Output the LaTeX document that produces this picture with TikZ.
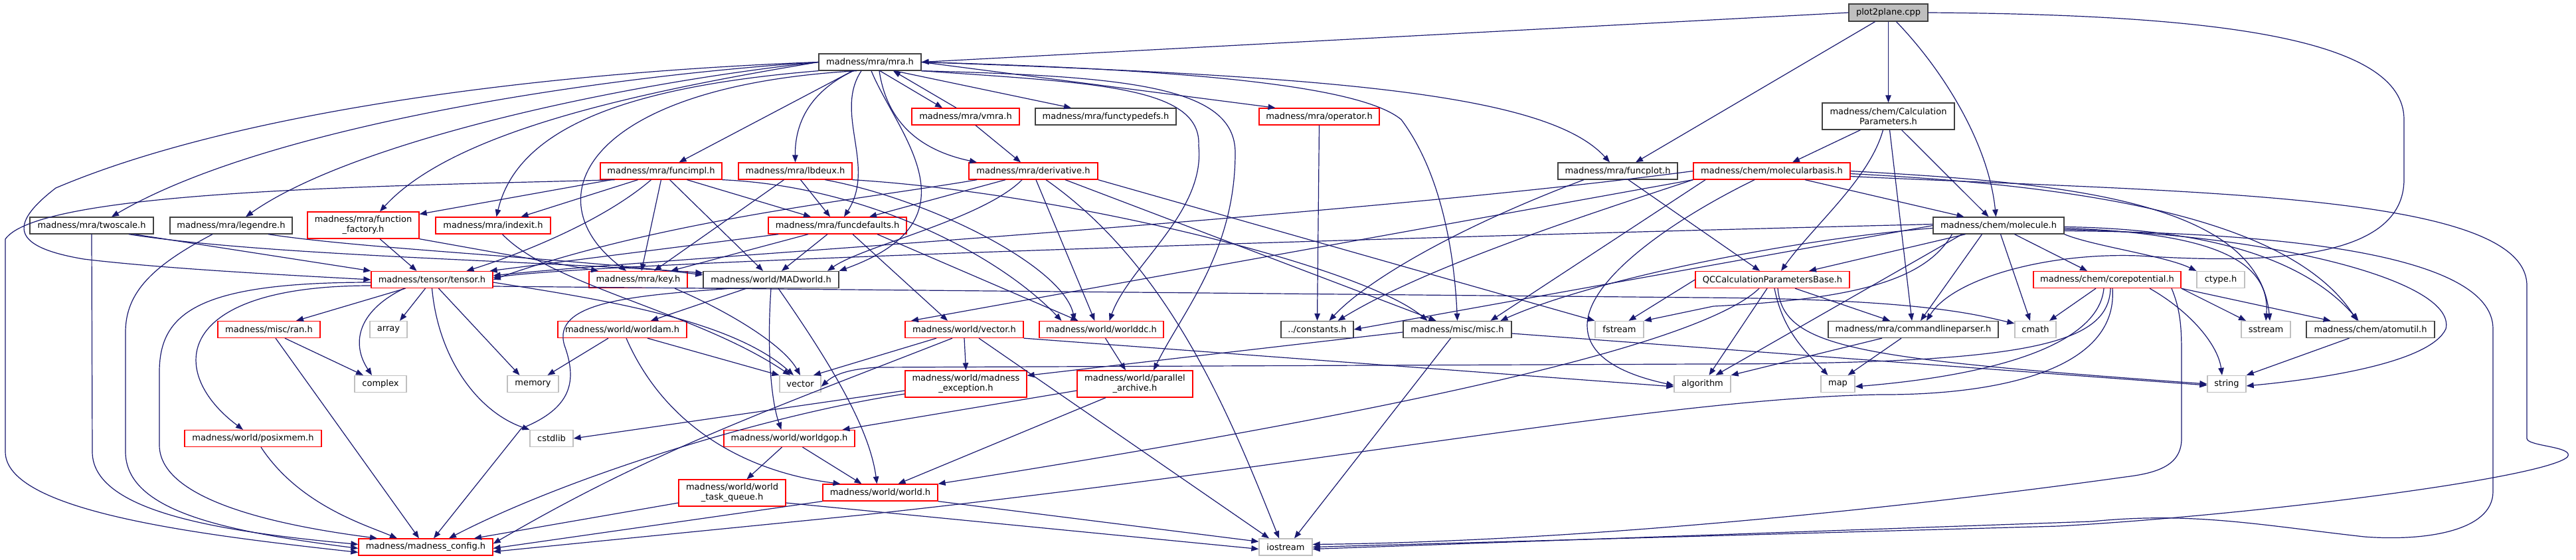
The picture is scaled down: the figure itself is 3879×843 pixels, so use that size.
\documentclass[tikz,border=0pt]{standalone}
\usepackage{fontspec}
\setmainfont{DejaVu Sans}
\usetikzlibrary{arrows.meta}
\definecolor{edgecol}{HTML}{191970}
\definecolor{redc}{HTML}{FF0000}
\definecolor{grayc}{HTML}{BFBFBF}
\definecolor{blackc}{HTML}{404040}
\begin{document}
\begin{tikzpicture}[x=1pt,y=-1pt, font=\fontsize{13pt}{15pt}\selectfont,
 nbase/.style={rectangle, inner sep=0pt, minimum height=25pt, line width=1.3pt, fill=white, align=center, text=black},
 nb/.style={nbase, draw=blackc},
 nr/.style={nbase, draw=redc},
 ng/.style={nbase, draw=grayc},
 nroot/.style={nbase, draw=blackc, fill=grayc},
 arr/.style={draw=edgecol, line width=1.2pt, -{Triangle[length=11pt,width=8.5pt]}}]
\fill[white] (0,0) rectangle (3879,843);
\useasboundingbox (0,0) rectangle (3879,843);

% ---------- nodes ----------
\node[nroot, minimum width=119pt, minimum height=26pt] (P) at (2843.5,19) {plot2plane.cpp};
\node[nb, minimum width=154pt] (mra) at (1310,93.5) {madness/mra/mra.h};
\node[nb, minimum width=186pt] (twoscale) at (138,339.5) {madness/mra/twoscale.h};
\node[nb, minimum width=184pt] (legendre) at (348,339.5) {madness/mra/legendre.h};
\node[nr, minimum width=168pt, minimum height=40pt] (ff) at (547,339) {madness/mra/function\\\_factory.h};
\node[nr, minimum width=183pt] (tensor) at (650.5,421) {madness/tensor/tensor.h};
\node[nr, minimum width=183pt] (funcimpl) at (995.5,257.5) {madness/mra/funcimpl.h};
\node[nr, minimum width=171pt] (lbdeux) at (1197.5,257.5) {madness/mra/lbdeux.h};
\node[nr, minimum width=173pt] (indexit) at (742.5,339.5) {madness/mra/indexit.h};
\node[nr, minimum width=208pt] (funcdefaults) at (1261,339.5) {madness/mra/funcdefaults.h};
\node[nr, minimum width=148pt] (key) at (961,421) {madness/mra/key.h};
\node[nb, minimum width=204pt] (MADworld) at (1161,421) {madness/world/MADworld.h};
\node[nr, minimum width=162pt] (vmra) at (1454,175.5) {madness/mra/vmra.h};
\node[nb, minimum width=212pt] (functypedefs) at (1665,175.5) {madness/mra/functypedefs.h};
\node[nr, minimum width=181pt] (operator) at (1986.5,175.5) {madness/mra/operator.h};
\node[nr, minimum width=194pt] (derivative) at (1556,257.5) {madness/mra/derivative.h};
\node[nb, minimum width=180pt] (funcplot) at (2436,257.5) {madness/mra/funcplot.h};
\node[nr, minimum width=236pt] (MB) at (2668,257.5) {madness/chem/molecularbasis.h};
\node[nr, minimum width=232pt] (QCC) at (2669,421) {QCCalculationParametersBase.h};
\node[nb, minimum width=199pt, minimum height=40pt] (C) at (2843.5,175) {madness/chem/Calculation\\Parameters.h};
\node[nb, minimum width=197pt] (molecule) at (3009.5,339.5) {madness/chem/molecule.h};
\node[nr, minimum width=222pt] (cp) at (3173,421) {madness/chem/corepotential.h};
\node[ng, minimum width=72pt] (ctype) at (3344,421) {ctype.h};
\node[nr, minimum width=154pt] (ran) at (405,496) {madness/misc/ran.h};
\node[ng, minimum width=56pt] (array) at (585,496) {array};
\node[ng, minimum width=78pt] (complex) at (573,578) {complex};
\node[nr, minimum width=206pt] (posixmem) at (381,660) {madness/world/posixmem.h};
\node[nr, minimum width=202pt] (mconfig) at (641,823.5) {madness/madness\_config.h};
\node[nr, minimum width=194pt] (worldam) at (937,496) {madness/world/worldam.h};
\node[ng, minimum width=77pt] (memory) at (802.5,578) {memory};
\node[ng, minimum width=62pt] (vector) at (1205,578) {vector};
\node[ng, minimum width=65pt] (cstdlib) at (830.5,660) {cstdlib};
\node[nr, minimum width=197pt] (worldgop) at (1188.5,660) {madness/world/worldgop.h};
\node[nr, minimum width=161pt, minimum height=40pt] (wtq) at (1102.5,742) {madness/world/world\\\_task\_queue.h};
\node[nr, minimum width=173pt] (world) at (1325.5,741.5) {madness/world/world.h};
\node[nr, minimum width=178pt] (vectorh) at (1452,496) {madness/world/vector.h};
\node[nr, minimum width=187pt] (worlddc) at (1658.5,496) {madness/world/worlddc.h};
\node[nr, minimum width=183pt, minimum height=40pt] (mexc) at (1454.5,578) {madness/world/madness\\\_exception.h};
\node[nr, minimum width=174pt, minimum height=40pt] (parch) at (1709,578) {madness/world/parallel\\\_archive.h};
\node[ng, minimum width=80pt] (iostream) at (1936,823.5) {iostream};
\node[nb, minimum width=109pt] (constants) at (1983.5,496) {../constants.h};
\node[nb, minimum width=163pt] (misc) at (2194.5,496) {madness/misc/misc.h};
\node[ng, minimum width=73pt] (fstream) at (2438.5,496) {fstream};
\node[ng, minimum width=85pt] (algorithm) at (2563.5,578) {algorithm};
\node[nb, minimum width=256pt] (cmdline) at (2881,496) {madness/mra/commandlineparser.h};
\node[ng, minimum width=62pt] (cmath) at (3065,496) {cmath};
\node[ng, minimum width=51pt] (map) at (2767.5,578) {map};
\node[ng, minimum width=74pt] (sstream) at (3412,496) {sstream};
\node[nb, minimum width=193pt] (atomutil) at (3569.5,496) {madness/chem/atomutil.h};
\node[ng, minimum width=58pt] (string) at (3353,578) {string};

% ---------- edges ----------
% plot2plane.cpp
\draw[arr] (P.west) -- (mra.east);
\draw[arr] ([xshift=-20pt]P.south) -- ([xshift=27pt]funcplot.north);
\draw[arr] (P.south) -- (C.north);
\draw[arr] ([xshift=12pt]P.south) .. controls (2930,110) and (2995,220) .. ([xshift=-4pt]molecule.north);
\draw[arr] (P.east) .. controls (3350,22) and (3620,60) .. (3620,180) -- (3620,270) .. controls (3620,390) and (3420,398) .. (3220,385) .. controls (3080,380) and (2940,420) .. ([xshift=20pt]cmdline.north);

% mra.h
\draw[arr] (mra.west) .. controls (900,115) and (400,190) .. ([xshift=30pt]twoscale.north);
\draw[arr] (mra.west) .. controls (900,130) and (520,220) .. ([xshift=22pt]legendre.north);
\draw[arr] (mra.west) .. controls (950,140) and (680,200) .. ([xshift=25pt]ff.north);
\draw[arr] (mra.west) .. controls (800,110) and (350,170) .. (84,283) .. controls (10,340) and (20,372) .. (126,390) .. controls (250,405) and (450,415) .. (tensor.west);
\draw[arr] (mra.south west) .. controls (950,130) and (780,190) .. ([xshift=5pt]indexit.north);
\draw[arr] ([xshift=-26pt]mra.south) -- ([xshift=27pt]funcimpl.north);
\draw[arr] ([xshift=-25pt]mra.south) .. controls (1215,140) and (1197,190) .. (lbdeux.north);
\draw[arr] ([xshift=-13pt]mra.south) .. controls (1255,170) and (1320,250) .. ([xshift=10pt]funcdefaults.north);
\draw[arr] ([xshift=-20pt]mra.south) .. controls (880,130) and (800,300) .. ([xshift=-18pt]key.north);
\draw[arr] ([xshift=2pt]mra.south) .. controls (1350,200) and (1480,330) .. (MADworld.north east);
\draw[arr] ([xshift=15pt]mra.south) -- ([xshift=-35pt]vmra.north);
\draw[arr] ([xshift=37pt]mra.south) -- ([xshift=-52pt]functypedefs.north);
\draw[arr] (mra.east) -- ([xshift=-66pt]operator.north);
\draw[arr] ([xshift=14pt]mra.south) .. controls (1335,180) and (1380,225) .. ([xshift=-85pt]derivative.north);
\draw[arr] (mra.east) .. controls (2000,115) and (2330,140) .. ([xshift=-12pt]funcplot.north);
\draw[arr] (mra.east) .. controls (1800,105) and (2050,130) .. (2110,180) .. controls (2170,260) and (2190,380) .. (misc.north);
\draw[arr] (mra.south east) .. controls (1650,125) and (1810,130) .. (1805,220) .. controls (1815,320) and (1700,400) .. ([xshift=12pt]worlddc.north);
\draw[arr] (mra.south east) .. controls (1700,115) and (1860,130) .. (1860,230) .. controls (1860,380) and (1780,470) .. ([xshift=28pt]parch.north);

% vmra.h
\draw[arr] ([xshift=-14pt]vmra.north) -- ([xshift=35pt]mra.south);
\draw[arr] ([xshift=15pt]vmra.south) -- ([xshift=-19pt]derivative.north);

% twoscale.h, legendre.h
\draw[arr] (twoscale.south) -- (139,680) .. controls (139,770) and (330,800) .. ([yshift=4pt]mconfig.west);
\draw[arr] ([xshift=64pt]twoscale.south) -- (tensor.north west);
\draw[arr] ([xshift=56pt]twoscale.south) .. controls (400,385) and (800,392) .. ([yshift=-3pt]MADworld.north west);
\draw[arr] ([xshift=-28pt]legendre.south) .. controls (230,400) and (189,440) .. (189,500) -- (189,680) .. controls (189,770) and (340,800) .. ([yshift=-2pt]mconfig.west);
\draw[arr] ([xshift=56pt]legendre.south) .. controls (550,375) and (850,388) .. ([yshift=-6pt]MADworld.north west);

% function_factory.h
\draw[arr] ([xshift=25pt]ff.south) -- ([xshift=-23pt]tensor.north);
\draw[arr] (ff.south east) -- ([xshift=-60pt]key.north);

% funcimpl.h
\draw[arr] ([xshift=-75pt]funcimpl.south) -- ([yshift=-4pt]ff.north east);
\draw[arr] ([xshift=-35pt]funcimpl.south) -- ([xshift=42pt]indexit.north);
\draw[arr] ([xshift=39pt]funcimpl.south) -- ([xshift=-40pt]funcdefaults.north);
\draw[arr] ([xshift=-15pt]funcimpl.south) .. controls (900,340) and (760,390) .. ([xshift=52pt]tensor.north);
\draw[arr] (funcimpl.south) -- ([xshift=5pt]key.north);
\draw[arr] ([xshift=13pt]funcimpl.south) -- ([xshift=-12pt]MADworld.north);
\draw[arr] (funcimpl.south east) .. controls (1300,280) and (1500,380) .. ([xshift=-60pt]worlddc.north);
\draw[arr] ([xshift=-70pt]funcimpl.south) .. controls (600,280) and (60,285) .. (8,360) -- (8,680) .. controls (8,770) and (300,805) .. ([yshift=-8pt]mconfig.west);

% lbdeux.h
\draw[arr] ([xshift=-17pt]lbdeux.south) -- ([xshift=24pt]key.north);
\draw[arr] ([xshift=8pt]lbdeux.south) -- ([xshift=-11pt]funcdefaults.north);
\draw[arr] ([xshift=45pt]lbdeux.south) .. controls (1400,300) and (1600,400) .. ([xshift=-40pt]worlddc.north);
\draw[arr] (lbdeux.south east) .. controls (1600,290) and (2050,400) .. ([xshift=-45pt]misc.north);

% indexit.h
\draw[arr] ([xshift=14pt]indexit.south) .. controls (830,430) and (1050,470) .. ([xshift=-15pt]vector.north);

% funcdefaults.h
\draw[arr] ([xshift=-89pt]funcdefaults.south) -- ([xshift=-5pt]tensor.north east);
\draw[arr] ([xshift=-44pt]funcdefaults.south) -- ([xshift=49pt]key.north);
\draw[arr] ([xshift=-15pt]funcdefaults.south) -- ([xshift=16pt]MADworld.north);
\draw[arr] ([xshift=23pt]funcdefaults.south) -- ([xshift=-25pt]vectorh.north);
\draw[arr] ([xshift=60pt]funcdefaults.south) -- ([xshift=-35pt]worlddc.north);

% derivative.h
\draw[arr] ([xshift=-42pt]derivative.south) -- ([xshift=48pt]funcdefaults.north);
\draw[arr] ([xshift=-85pt]derivative.south) .. controls (1300,300) and (1000,330) .. (tensor.east);
\draw[arr] ([xshift=-17pt]derivative.south) .. controls (1480,330) and (1300,370) .. ([xshift=85pt]MADworld.north);
\draw[arr] ([xshift=4pt]derivative.south) -- ([xshift=-10pt]worlddc.north);
\draw[arr] ([xshift=48pt]derivative.south) -- ([xshift=-32pt]misc.north);
\draw[arr] (derivative.south east) -- (fstream.north west);
\draw[arr] ([xshift=19pt]derivative.south) .. controls (1760,400) and (1850,620) .. ([xshift=-10pt]iostream.north);

% tensor.h
\draw[arr] ([xshift=-40pt]tensor.south) -- ([xshift=41pt]ran.north);
\draw[arr] ([xshift=-10pt]tensor.south) -- ([xshift=17pt]array.north);
\draw[arr] ([xshift=-42pt]tensor.south) .. controls (535,470) and (530,520) .. ([xshift=-13pt]complex.north);
\draw[arr] ([yshift=-9pt]tensor.west) .. controls (260,430) and (250,560) .. ([xshift=-15pt]posixmem.north);
\draw[arr] ([yshift=-4pt]tensor.west) .. controls (300,425) and (240,470) .. (240,560) -- (240,670) .. controls (240,760) and (450,795) .. ([xshift=-73pt]mconfig.north);
\draw[arr] ([xshift=10pt]tensor.south) -- ([xshift=-20pt]memory.north);
\draw[arr] (tensor.south) .. controls (660,540) and (720,620) .. (cstdlib.north west);
\draw[arr] ([yshift=-4pt]tensor.east) .. controls (900,450) and (1100,480) .. ([xshift=-10pt]vector.north);
\draw[arr] ([yshift=-10pt]tensor.east) -- (2560,448) .. controls (2900,450) and (2980,475) .. ([yshift=-4pt]cmath.north west);

% ran.h, posixmem.h
\draw[arr] ([xshift=24pt]ran.south) -- ([xshift=-26pt]complex.north);
\draw[arr] ([xshift=10pt]ran.south) -- ([xshift=-10pt]mconfig.north);
\draw[arr] ([xshift=12pt]posixmem.south) .. controls (450,760) and (550,790) .. ([xshift=-43pt]mconfig.north);

% key.h, MADworld.h
\draw[arr] ([xshift=55pt]key.south) .. controls (1100,470) and (1180,520) .. (vector.north);
\draw[arr] ([xshift=-60pt]MADworld.south) .. controls (950,445) and (830,455) .. (850,520) .. controls (870,575) and (860,615) .. (785,645) -- ([xshift=12pt]mconfig.north);
\draw[arr] ([xshift=-37pt]MADworld.south) -- ([xshift=43pt]worldam.north);
\draw[arr] (MADworld.south) .. controls (1155,520) and (1160,600) .. ([xshift=-12pt]worldgop.north);
\draw[arr] ([xshift=11pt]MADworld.south) .. controls (1260,560) and (1310,650) .. ([xshift=-5pt]world.north);

% worldam.h, worldgop.h, world_task_queue.h, world.h
\draw[arr] ([xshift=-21pt]worldam.south) -- ([xshift=22pt]memory.north);
\draw[arr] ([xshift=38pt]worldam.south) -- (vector.north west);
\draw[arr] ([xshift=6pt]worldam.south) .. controls (1000,640) and (1120,710) .. ([xshift=-60pt]world.north);
\draw[arr] ([xshift=-11pt]worldgop.south) -- ([xshift=22pt]wtq.north);
\draw[arr] ([xshift=20pt]worldgop.south) -- ([xshift=-28pt]world.north);
\draw[arr] ([yshift=-15pt]wtq.west) -- ([xshift=73pt]mconfig.north);
\draw[arr] ([yshift=-15pt]wtq.east) -- ([yshift=-3pt]iostream.west);
\draw[arr] (world.south west) -- ([yshift=-2pt]mconfig.east);
\draw[arr] (world.south east) -- ([yshift=-5pt]iostream.north west);

% vector.h
\draw[arr] (vectorh.south) -- (mexc.north);
\draw[arr] ([xshift=-42pt]vectorh.south) -- ([xshift=20pt]vector.north);
\draw[arr] ([xshift=-18pt]vectorh.south) .. controls (1150,620) and (980,680) .. ([yshift=5pt]mconfig.east);
\draw[arr] ([xshift=22pt]vectorh.south) -- ([xshift=-25pt]iostream.north);
\draw[arr] (vectorh.south east) -- ([yshift=-4pt]algorithm.west);

% worlddc.h, madness_exception.h, parallel_archive.h
\draw[arr] ([xshift=6pt]worlddc.south) -- ([xshift=-14pt]parch.north);
\draw[arr] ([yshift=-10pt]mexc.west) -- (cstdlib.east);
\draw[arr] ([yshift=-15pt]mexc.west) .. controls (1150,625) and (850,720) .. ([xshift=35pt]mconfig.north);
\draw[arr] ([xshift=-44pt]parch.south) -- ([xshift=27pt]world.north);
\draw[arr] ([yshift=-10pt]parch.west) -- ([xshift=80pt]worldgop.north);

% misc.h, operator.h, funcplot.h
\draw[arr] ([xshift=-10pt]misc.south) -- ([xshift=13pt]iostream.north);
\draw[arr] ([yshift=-6pt]misc.east) -- ([yshift=-2pt]string.west);
\draw[arr] ([yshift=-4pt]misc.west) -- ([yshift=-8pt]mexc.north east);
\draw[arr] (operator.south) -- (constants.north);
\draw[arr] ([xshift=-51pt]funcplot.south) .. controls (2200,340) and (2060,420) .. ([xshift=18pt]constants.north);
\draw[arr] ([xshift=16pt]funcplot.south) -- ([xshift=-19pt]QCC.north);

% CalculationParameters.h
\draw[arr] ([xshift=-42pt]C.south) -- ([xshift=31pt]MB.north);
\draw[arr] ([xshift=-8pt]C.south) .. controls (2815,270) and (2730,340) .. ([xshift=13pt]QCC.north);
\draw[arr] ([xshift=2pt]C.south) -- ([xshift=-2pt]cmdline.north);
\draw[arr] ([xshift=20pt]C.south) -- ([xshift=-15pt]molecule.north);

% molecularbasis.h
\draw[arr] ([xshift=50pt]MB.south) -- ([xshift=-52pt]molecule.north);
\draw[arr] ([xshift=-26pt]MB.south) .. controls (2520,330) and (2390,420) .. (2390,490) .. controls (2390,540) and (2450,565) .. ([yshift=-2pt]algorithm.west);
\draw[arr] (MB.south west) .. controls (2400,320) and (2150,400) .. ([xshift=31pt]constants.north);
\draw[arr] ([xshift=-100pt]MB.south) -- ([xshift=50pt]misc.north);
\draw[arr] (MB.south west) -- ([xshift=-80pt]vectorh.north);
\draw[arr] (MB.west) .. controls (2000,330) and (950,392) .. ([yshift=6pt]tensor.east);
\draw[arr] (MB.east) .. controls (3100,275) and (3400,300) .. ([xshift=6pt]sstream.north);
\draw[arr] ([yshift=-4pt]MB.east) .. controls (3150,280) and (3450,330) .. ([xshift=-20pt]atomutil.north);
\draw[arr] ([yshift=-8pt]MB.east) .. controls (3300,290) and (3805,290) .. (3805,430) -- (3805,660) .. controls (3805,672) and (3878,672) .. (3866,688) .. controls (3830,720) and (3400,775) .. (3100,792) -- (iostream.east);

% molecule.h
\draw[arr] ([xshift=-50pt]molecule.south) -- ([xshift=55pt]QCC.north);
\draw[arr] ([xshift=24pt]molecule.south) -- ([xshift=-30pt]cp.north);
\draw[arr] (molecule.south east) .. controls (3150,370) and (3260,385) .. (ctype.north west);
\draw[arr] ([xshift=3pt]molecule.south) -- ([xshift=-8pt]cmath.north);
\draw[arr] ([yshift=-4pt]molecule.east) .. controls (3300,350) and (3420,380) .. (sstream.north);
\draw[arr] ([yshift=-2pt]molecule.east) .. controls (3350,345) and (3480,400) .. ([xshift=-18pt]atomutil.north);
\draw[arr] ([yshift=-6pt]molecule.east) .. controls (3400,350) and (3700,420) .. (3683,495) .. controls (3660,545) and (3500,570) .. ([yshift=-3pt]string.east);
\draw[arr] ([xshift=-25pt]molecule.south) -- ([xshift=11pt]cmdline.north);
\draw[arr] ([xshift=-55pt]molecule.south) -- ([xshift=20pt]algorithm.north);
\draw[arr] ([xshift=-70pt]molecule.south) .. controls (2900,420) and (2800,450) .. (2580,461) -- (fstream.north east);
\draw[arr] (molecule.west) -- (constants.east);
\draw[arr] ([yshift=-4pt]molecule.west) .. controls (2700,360) and (2400,420) .. ([xshift=65pt]misc.north);
\draw[arr] ([yshift=2pt]molecule.west) .. controls (2000,360) and (900,395) .. ([yshift=3pt]tensor.east);
\draw[arr] ([yshift=-8pt]molecule.east) .. controls (3420,350) and (3754,380) .. (3754,495) -- (3754,740) .. controls (3754,800) and (3650,815) .. (3560,808) .. controls (3400,790) and (3300,770) .. (3150,785) -- ([yshift=-3pt]iostream.east);

% QCCalculationParametersBase.h
\draw[arr] ([xshift=34pt]QCC.south) -- ([xshift=-35pt]cmdline.north);
\draw[arr] ([xshift=-8pt]QCC.south) -- ([xshift=10pt]algorithm.north);
\draw[arr] ([xshift=3pt]QCC.south) .. controls (2685,500) and (2720,530) .. ([xshift=-15pt]map.north);
\draw[arr] ([xshift=8pt]QCC.south) .. controls (2685,525) and (2800,540) .. (string.west);
\draw[arr] ([xshift=-20pt]QCC.south) .. controls (2560,520) and (2100,620) .. (world.north east);
\draw[arr] (QCC.west) -- ([xshift=14pt]fstream.north);

% commandlineparser.h
\draw[arr] ([xshift=-47pt]cmdline.south) -- (algorithm.north east);
\draw[arr] ([xshift=-18pt]cmdline.south) -- ([xshift=15pt]map.north);

% corepotential.h
\draw[arr] ([xshift=-17pt]cp.south) -- ([xshift=21pt]cmath.north);
\draw[arr] ([xshift=-5pt]cp.south) .. controls (3160,520) and (3000,565) .. ([yshift=-4pt]map.east);
\draw[arr] ([xshift=64pt]cp.south) .. controls (3300,470) and (3340,520) .. ([xshift=-7pt]string.north);
\draw[arr] (cp.south east) -- ([xshift=-30pt]sstream.north);
\draw[arr] (cp.south east) -- ([xshift=-60pt]atomutil.north);
\draw[arr] ([xshift=8pt]cp.south) .. controls (3190,560) and (3000,595) .. (2830,594) .. controls (2500,600) and (2000,700) .. (1300,775) -- ([yshift=-7pt]mconfig.east);
\draw[arr] ([xshift=97pt]cp.south) .. controls (3285,470) and (3285,500) .. (3285,540) -- (3285,660) .. controls (3285,700) and (3250,712) .. (3200,718) .. controls (2900,760) and (2400,815) .. ([yshift=4pt]iostream.east);
\draw[arr] ([xshift=5pt]cp.south) .. controls (3175,520) and (3050,548) .. (2560,548) -- (1320,553) .. controls (1290,555) and (1260,560) .. ([yshift=-4pt]vector.east);

% atomutil.h
\draw[arr] ([xshift=-32pt]atomutil.south) -- (string.north east);
\end{tikzpicture}
\end{document}
